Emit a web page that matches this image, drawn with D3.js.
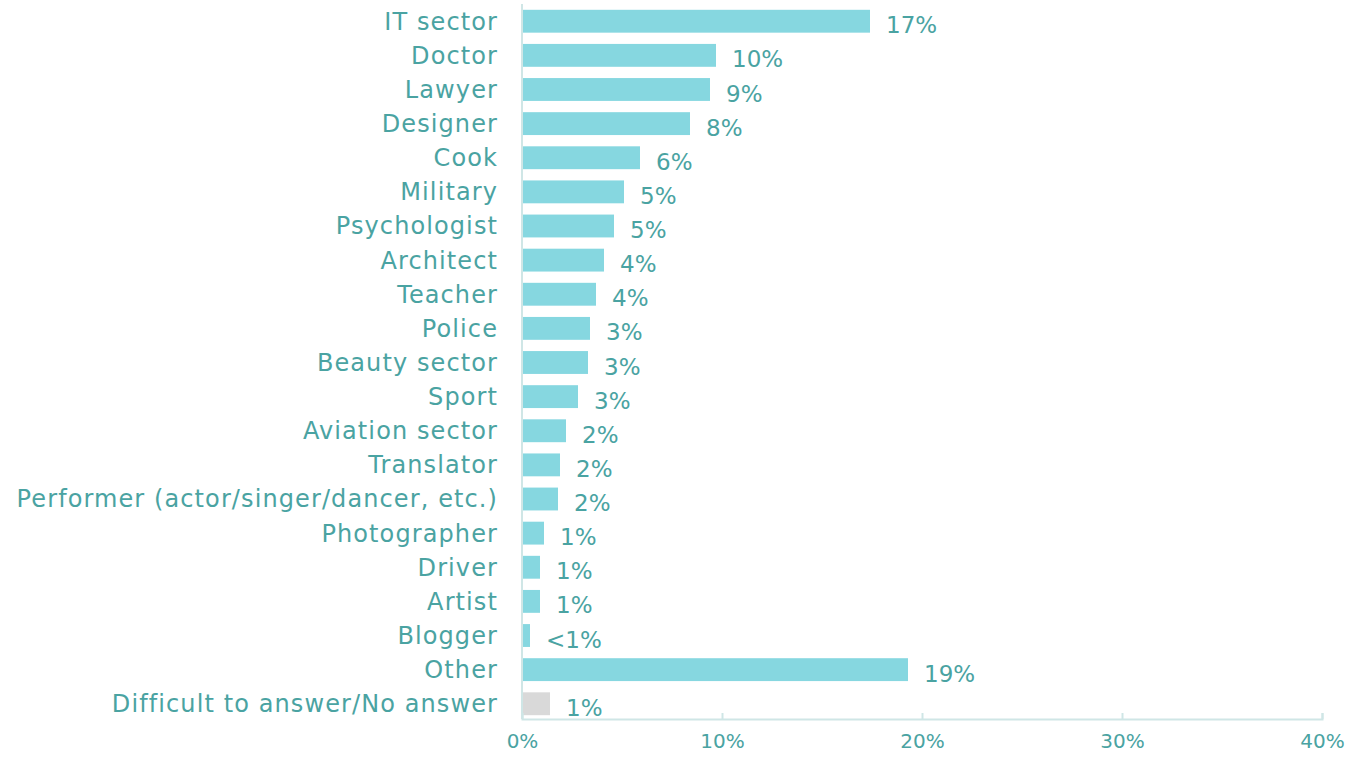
<!DOCTYPE html>
<html lang="en">
<head>
    <meta charset="UTF-8">
    <title>Desired professions</title>
    <style>
        body, html {
            margin: 0;
            padding: 0;
            background: #fff;
            font-family: "DejaVu Sans", "Noto Sans", Arial, sans-serif;
        }
        .cat-label { fill: #4aa3a2; font-size: 24px; letter-spacing: 1.1px; }
        .val-label { fill: #4aa3a2; font-size: 23px; }
        .x-axis text { fill: #4aa3a2; font-size: 20px; }
    </style>
    <script src="https://d3js.org/d3.v7.min.js"></script>
</head>
<body>
    <div id="chart"></div>
    <script>
        const categories = ["IT sector", "Doctor", "Lawyer", "Designer", "Cook", "Military",
            "Psychologist", "Architect", "Teacher", "Police", "Beauty sector", "Sport",
            "Aviation sector", "Translator", "Performer (actor/singer/dancer, etc.)",
            "Photographer", "Driver", "Artist", "Blogger", "Other", "Difficult to answer/No answer"];
        const values = [17.4, 9.7, 9.4, 8.4, 5.9, 5.1, 4.6, 4.1, 3.7, 3.4, 3.3, 2.8,
            2.2, 1.9, 1.8, 1.1, 0.9, 0.9, 0.4, 19.3, 1.4];
        const valueLabels = ["17%", "10%", "9%", "8%", "6%", "5%", "5%", "4%", "4%", "3%",
            "3%", "3%", "2%", "2%", "2%", "1%", "1%", "1%", "<1%", "19%", "1%"];
        const xTicks = [0, 10, 20, 30, 40];

        const width = 1348, height = 757;
        const mLeft = 522, mRight = 1322, mTop = 4, mBottom = 721;

        const svg = d3.select("#chart").append("svg")
            .attr("width", width)
            .attr("height", height);

        const x = d3.scaleLinear().domain([0, 40]).range([mLeft, mRight]);
        const y = d3.scaleBand().domain(categories).range([mTop, mBottom]).paddingInner(0.33).paddingOuter(0.17);

        const data = categories.map((c, i) => ({ cat: c, v: values[i], label: valueLabels[i] }));

        // bars
        svg.selectAll("rect.bar")
            .data(data)
            .enter().append("rect")
            .attr("class", "bar")
            .attr("x", x(0))
            .attr("y", d => y(d.cat))
            .attr("width", d => x(d.v) - x(0))
            .attr("height", y.bandwidth())
            .attr("fill", d => d.cat.startsWith("Difficult") ? "#d9d9d9" : "#86d7e0");

        // value labels
        svg.selectAll("text.val-label")
            .data(data)
            .enter().append("text")
            .attr("class", "val-label")
            .attr("x", d => x(d.v) + 16)
            .attr("y", d => y(d.cat) + y.bandwidth() / 2 + 4)
            .attr("dy", "0.35em")
            .text(d => d.label);

        // category labels
        svg.selectAll("text.cat-label")
            .data(data)
            .enter().append("text")
            .attr("class", "cat-label")
            .attr("x", mLeft - 24)
            .attr("y", d => y(d.cat) + y.bandwidth() / 2)
            .attr("dy", "0.35em")
            .attr("text-anchor", "end")
            .text(d => d.cat);

        // x axis
        const xAxis = d3.axisBottom(x)
            .tickValues(xTicks)
            .tickFormat(d => d + "%")
            .tickSize(-6)
            .tickPadding(15);

        const gx = svg.append("g")
            .attr("class", "x-axis")
            .attr("transform", `translate(0,${mBottom - 2})`)
            .call(xAxis);
        gx.select(".domain").attr("stroke", "#cfe6e6").attr("stroke-width", 2);
        gx.selectAll(".tick line").attr("stroke", "#cfe6e6").attr("stroke-width", 2);
        gx.attr("font-family", null).attr("font-size", null);

        // y axis line
        svg.append("line")
            .attr("x1", x(0)).attr("x2", x(0))
            .attr("y1", mTop).attr("y2", mBottom - 2)
            .attr("stroke", "#cfe6e6")
            .attr("stroke-width", 2);
    </script>
</body>
</html>
